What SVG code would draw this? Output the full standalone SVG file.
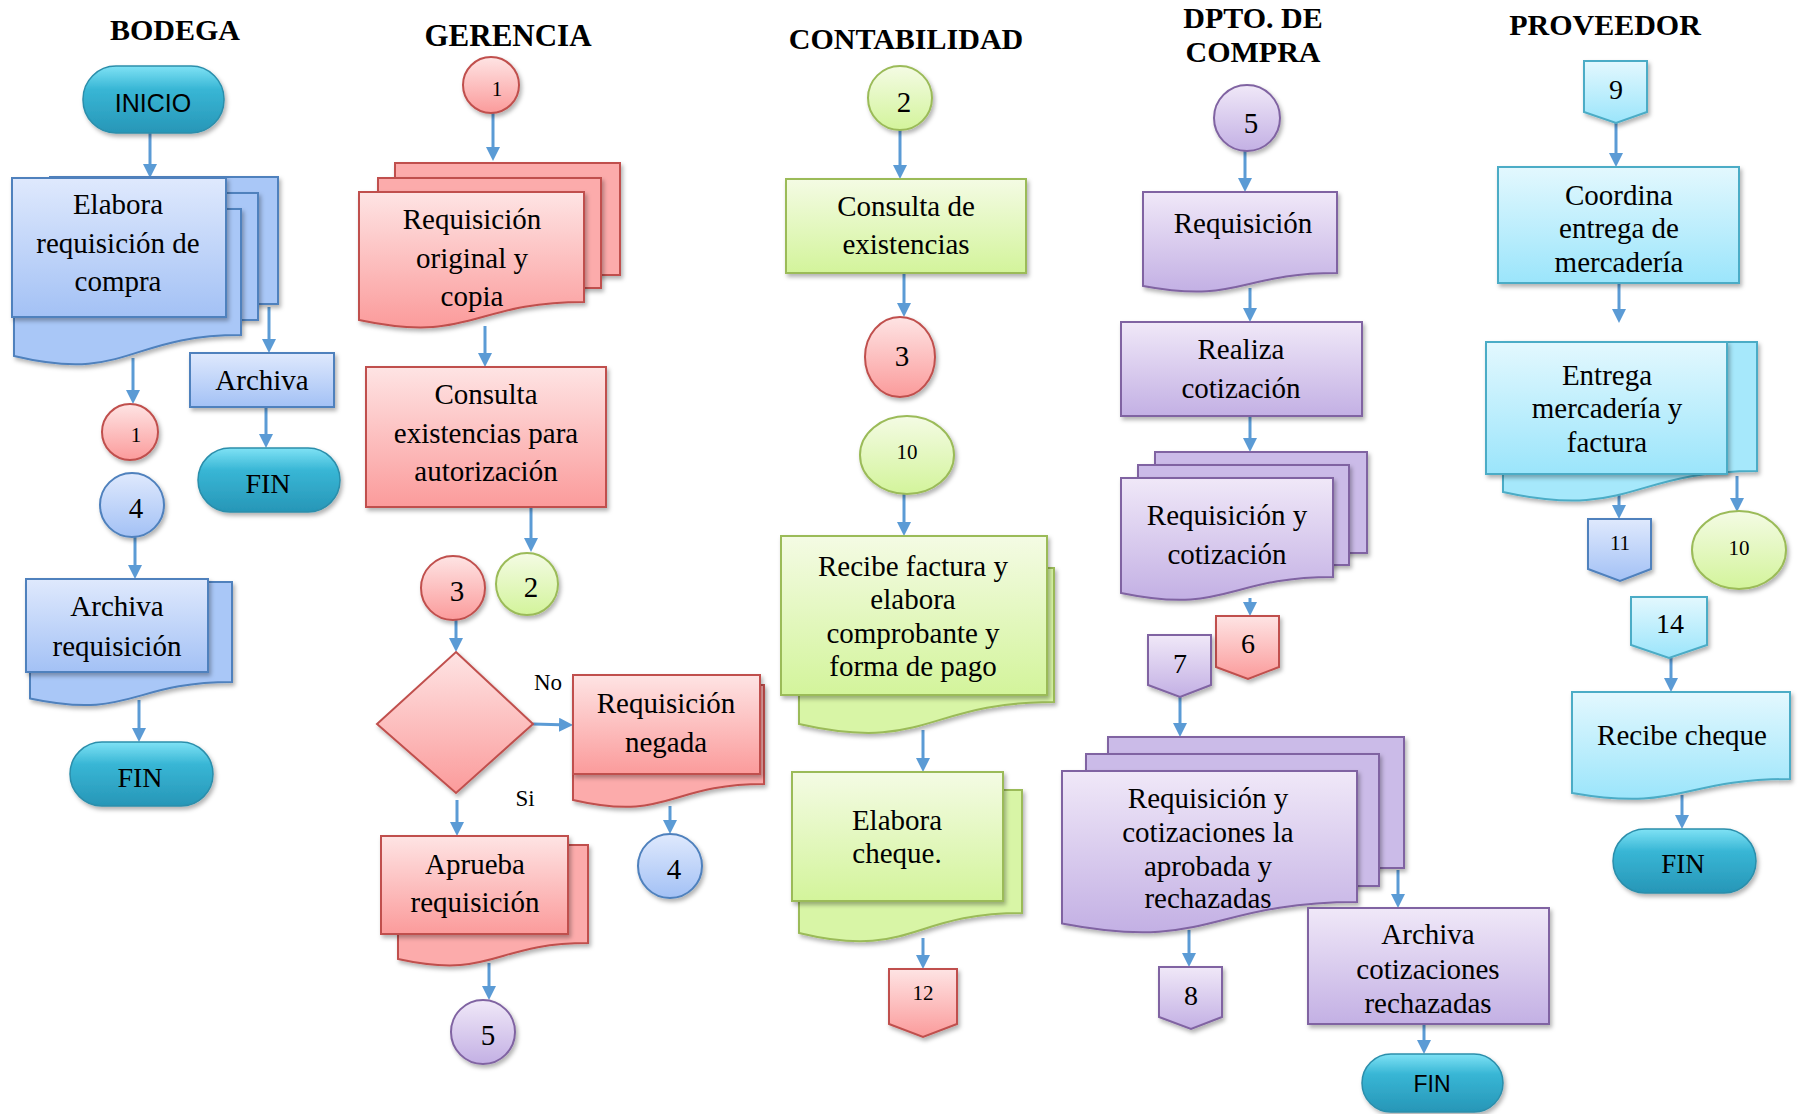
<svg xmlns="http://www.w3.org/2000/svg" width="1799" height="1114" viewBox="0 0 1799 1114">
<defs>
  <linearGradient id="gBlue" x1="0" y1="0" x2="0" y2="1"><stop offset="0" stop-color="#dfe9fd"/><stop offset="1" stop-color="#a3c1f5"/></linearGradient>
  <linearGradient id="gRed" x1="0" y1="0" x2="0" y2="1"><stop offset="0" stop-color="#fee4e4"/><stop offset="1" stop-color="#fb9b9b"/></linearGradient>
  <linearGradient id="gGreen" x1="0" y1="0" x2="0" y2="1"><stop offset="0" stop-color="#f4fbe4"/><stop offset="1" stop-color="#d3f49b"/></linearGradient>
  <linearGradient id="gPurple" x1="0" y1="0" x2="0" y2="1"><stop offset="0" stop-color="#f0e8f8"/><stop offset="1" stop-color="#c3b0e4"/></linearGradient>
  <linearGradient id="gCyan" x1="0" y1="0" x2="0" y2="1"><stop offset="0" stop-color="#e3f8fe"/><stop offset="1" stop-color="#9be5fb"/></linearGradient>
  <linearGradient id="gTerm" x1="0" y1="0" x2="0" y2="1"><stop offset="0" stop-color="#7fe2f5"/><stop offset="0.35" stop-color="#38b6d5"/><stop offset="1" stop-color="#2796b7"/></linearGradient>
  <filter id="sh" x="-10%" y="-10%" width="130%" height="140%"><feDropShadow dx="2" dy="3" stdDeviation="2" flood-color="#000" flood-opacity="0.3"/></filter>
  <marker id="ah" markerUnits="userSpaceOnUse" markerWidth="14" markerHeight="14" viewBox="0 0 14 14" refX="10" refY="7" orient="auto"><path d="M0,0 L14,7 L0,14 z" fill="#5b9bd5"/></marker>
</defs>
<style>
  .sh{filter:url(#sh)}
  .b{fill:url(#gBlue);stroke:#4f81bd;stroke-width:2}
  .bb{fill:#a9c7f7;stroke:#4f81bd;stroke-width:2}
  .r{fill:url(#gRed);stroke:#c0504d;stroke-width:2}
  .rb{fill:#fcabab;stroke:#c0504d;stroke-width:2}
  .g{fill:url(#gGreen);stroke:#9bbb59;stroke-width:2}
  .gb{fill:#d8f5a6;stroke:#9bbb59;stroke-width:2}
  .p{fill:url(#gPurple);stroke:#8064a2;stroke-width:2}
  .pb{fill:#cbbbe8;stroke:#8064a2;stroke-width:2}
  .c{fill:url(#gCyan);stroke:#4bacc6;stroke-width:2}
  .cb{fill:#a6e8fb;stroke:#4bacc6;stroke-width:2}
  .term{fill:url(#gTerm);stroke:#2b8eab;stroke-width:1.5}
  .t{font-family:"Liberation Serif","Times New Roman",serif;font-size:29px;text-anchor:middle;fill:#000}
  .ts{font-size:21px}
  .tl{font-size:23px}
  .tn{font-size:28px}
  .h{font-weight:bold;font-size:30px}
  .sans{font-family:"Liberation Sans",Arial,sans-serif}
  .ar{stroke:#5b9bd5;stroke-width:3;fill:none;marker-end:url(#ah)}
</style>
<rect width="1799" height="1114" fill="#ffffff"/>

<g id="connectors">
  <path class="ar" d="M150,133 V174"/>
  <path class="ar" d="M269,307 V349"/>
  <path class="ar" d="M133,358 V400"/>
  <path class="ar" d="M266,407 V444"/>
  <path class="ar" d="M135,537 V575"/>
  <path class="ar" d="M139,700 V738"/>
  <path class="ar" d="M493,113 V157"/>
  <path class="ar" d="M485,326 V363"/>
  <path class="ar" d="M531,507 V548"/>
  <path class="ar" d="M456,620 V648"/>
  <path class="ar" d="M533,724 L569,725"/>
  <path class="ar" d="M670,806 V830"/>
  <path class="ar" d="M457,800 V832"/>
  <path class="ar" d="M489,963 V996"/>
  <path class="ar" d="M900,130 V175"/>
  <path class="ar" d="M904,273 V313"/>
  <path class="ar" d="M904,494 V532"/>
  <path class="ar" d="M923,730 V768"/>
  <path class="ar" d="M923,938 V965"/>
  <path class="ar" d="M1245,151 V188"/>
  <path class="ar" d="M1250,288 V318"/>
  <path class="ar" d="M1250,416 V448"/>
  <path class="ar" d="M1250,598 V612"/>
  <path class="ar" d="M1180,697 V733"/>
  <path class="ar" d="M1189,930 V963"/>
  <path class="ar" d="M1398,870 V904"/>
  <path class="ar" d="M1424,1024 V1050"/>
  <path class="ar" d="M1616,123 V163"/>
  <path class="ar" d="M1619,283 V319"/>
  <path class="ar" d="M1619,474 V515"/>
  <path class="ar" d="M1737,476 V508"/>
  <path class="ar" d="M1671,658 V688"/>
  <path class="ar" d="M1682,795 V825"/>
</g>

<g id="titles">
  <text class="t h" x="175" y="40">BODEGA</text>
  <text class="t h" style="font-size:31px" x="508" y="46">GERENCIA</text>
  <text class="t h" x="906" y="49">CONTABILIDAD</text>
  <text class="t h" x="1253" y="28">DPTO. DE</text>
  <text class="t h" x="1253" y="62">COMPRA</text>
  <text class="t h" x="1605" y="35">PROVEEDOR</text>
</g>

<!-- BODEGA -->
<g id="inicio">
  <rect class="term sh" x="83" y="66" width="141" height="67" rx="33"/>
  <text class="t sans" style="font-size:25px" x="153" y="112">INICIO</text>
</g>
<g id="elabora-requisicion">
  <rect class="bb sh" x="50" y="177" width="228" height="127"/>
  <rect class="bb sh" x="30" y="193" width="228" height="127"/>
  <path class="bb sh" d="M14,209 H241 V335 C127.5,335 127.5,383 14,356 Z"/>
  <rect class="b sh" x="12" y="178" width="214" height="139"/>
  <text class="t" x="118" y="214">Elabora</text>
  <text class="t" x="118" y="253">requisición de</text>
  <text class="t" x="118" y="291">compra</text>
</g>
<g id="archiva-b">
  <rect class="b sh" x="190" y="353" width="144" height="54"/>
  <text class="t" x="262" y="390">Archiva</text>
</g>
<g id="fin-b1">
  <rect class="term sh" x="198" y="448" width="142" height="64" rx="32"/>
  <text class="t tn" x="268" y="493">FIN</text>
</g>
<g id="con-b1">
  <circle class="r sh" cx="130" cy="432" r="28"/>
  <text class="t ts" x="136" y="442">1</text>
</g>
<g id="con-b4">
  <circle class="b sh" cx="132" cy="505" r="32"/>
  <text class="t" x="136" y="518">4</text>
</g>
<g id="archiva-requisicion">
  <path class="bb sh" d="M30,582 H232 V682 C131,682 131,720 30,698.5 Z"/>
  <rect class="b sh" x="26" y="579" width="182" height="93"/>
  <text class="t" x="117" y="616">Archiva</text>
  <text class="t" x="117" y="656">requisición</text>
</g>
<g id="fin-b2">
  <rect class="term sh" x="70" y="742" width="143" height="64" rx="32"/>
  <text class="t tn" x="140" y="787">FIN</text>
</g>

<!-- GERENCIA -->
<g id="con-g1">
  <circle class="r sh" cx="491" cy="85" r="28"/>
  <text class="t ts" x="497" y="96">1</text>
</g>
<g id="req-original">
  <rect class="rb sh" x="395" y="163" width="225" height="112"/>
  <rect class="rb sh" x="378" y="178" width="223" height="110"/>
  <path class="r sh" d="M359,192 H584 V302 C471.5,302 471.5,344 359,320 Z"/>
  <text class="t" x="472" y="229">Requisición</text>
  <text class="t" x="472" y="268">original y</text>
  <text class="t" x="472" y="306">copia</text>
</g>
<g id="consulta-autorizacion">
  <rect class="r sh" x="366" y="367" width="240" height="140"/>
  <text class="t" x="486" y="404">Consulta</text>
  <text class="t" x="486" y="443">existencias para</text>
  <text class="t" x="486" y="481">autorización</text>
</g>
<g id="con-g3">
  <circle class="r sh" cx="453" cy="588" r="32"/>
  <text class="t" x="457" y="601">3</text>
</g>
<g id="con-g2">
  <circle class="g sh" cx="527" cy="584" r="31"/>
  <text class="t" x="531" y="597">2</text>
</g>
<g id="decision">
  <path class="r sh" d="M456,652 L533,724 L456,793 L377,724 Z"/>
</g>
<g id="labels">
  <text class="t tl" x="548" y="690">No</text>
  <text class="t tl" x="525" y="806">Si</text>
</g>
<g id="req-negada">
  <path class="rb sh" d="M573,685 H764 V784 C668.5,784 668.5,822 573,800 Z"/>
  <rect class="r sh" x="573" y="675" width="187" height="99"/>
  <text class="t" x="666" y="713">Requisición</text>
  <text class="t" x="666" y="752">negada</text>
</g>
<g id="con-g4">
  <circle class="b sh" cx="670" cy="866" r="32"/>
  <text class="t" x="674" y="879">4</text>
</g>
<g id="aprueba">
  <path class="rb sh" d="M398,845 H588 V943 C493,943 493,980 398,959 Z"/>
  <rect class="r sh" x="381" y="836" width="187" height="98"/>
  <text class="t" x="475" y="874">Aprueba</text>
  <text class="t" x="475" y="912">requisición</text>
</g>
<g id="con-g5">
  <circle class="p sh" cx="483" cy="1032" r="32"/>
  <text class="t" x="488" y="1045">5</text>
</g>

<!-- CONTABILIDAD -->
<g id="con-c2">
  <circle class="g sh" cx="900" cy="98" r="32"/>
  <text class="t" x="904" y="112">2</text>
</g>
<g id="consulta-existencias">
  <rect class="g sh" x="786" y="179" width="240" height="94"/>
  <text class="t" x="906" y="216">Consulta de</text>
  <text class="t" x="906" y="254">existencias</text>
</g>
<g id="con-c3">
  <ellipse class="r sh" cx="900" cy="357" rx="35" ry="40"/>
  <text class="t" x="902" y="366">3</text>
</g>
<g id="con-c10">
  <ellipse class="g sh" cx="907" cy="455" rx="47" ry="39"/>
  <text class="t ts" x="907" y="459">10</text>
</g>
<g id="recibe-factura">
  <path class="gb sh" d="M799,568 H1054 V702 C926.5,702 926.5,753 799,724 Z"/>
  <rect class="g sh" x="781" y="536" width="266" height="159"/>
  <text class="t" x="913" y="576">Recibe factura y</text>
  <text class="t" x="913" y="609">elabora</text>
  <text class="t" x="913" y="643">comprobante y</text>
  <text class="t" x="913" y="676">forma de pago</text>
</g>
<g id="elabora-cheque">
  <path class="gb sh" d="M799,790 H1022 V913 C910.5,913 910.5,960 799,933 Z"/>
  <rect class="g sh" x="792" y="772" width="211" height="129"/>
  <text class="t" x="897" y="830">Elabora</text>
  <text class="t" x="897" y="863">cheque.</text>
</g>
<g id="off-12">
  <path class="r sh" d="M889,969 H957 V1024 L923,1037 L889,1024 Z"/>
  <text class="t ts" x="923" y="1000">12</text>
</g>

<!-- DPTO. DE COMPRA -->
<g id="con-d5">
  <circle class="p sh" cx="1247" cy="118" r="33"/>
  <text class="t" x="1251" y="133">5</text>
</g>
<g id="requisicion-d">
  <path class="p sh" d="M1143,192 H1337 V273 C1240,273 1240,304 1143,286 Z"/>
  <text class="t" x="1243" y="233">Requisición</text>
</g>
<g id="realiza-cotizacion">
  <rect class="p sh" x="1121" y="322" width="241" height="94"/>
  <text class="t" x="1241" y="359">Realiza</text>
  <text class="t" x="1241" y="398">cotización</text>
</g>
<g id="req-cotizacion">
  <rect class="pb sh" x="1155" y="452" width="212" height="101"/>
  <rect class="pb sh" x="1138" y="465" width="211" height="100"/>
  <path class="p sh" d="M1121,478 H1333 V577 C1227,577 1227,615 1121,593 Z"/>
  <text class="t" x="1227" y="525">Requisición y</text>
  <text class="t" x="1227" y="564">cotización</text>
</g>
<g id="off-6">
  <path class="r sh" d="M1216,616 H1279 V667 L1248,679 L1216,667 Z"/>
  <text class="t tn" x="1248" y="653">6</text>
</g>
<g id="off-7">
  <path class="p sh" d="M1148,635 H1211 V685 L1180,697 L1148,685 Z"/>
  <text class="t tn" x="1180" y="673">7</text>
</g>
<g id="req-cotizaciones">
  <rect class="pb sh" x="1108" y="737" width="296" height="131"/>
  <rect class="pb sh" x="1086" y="754" width="293" height="132"/>
  <path class="p sh" d="M1062,771 H1357 V902 C1209.5,902 1209.5,952 1062,923.5 Z"/>
  <text class="t" x="1208" y="808">Requisición y</text>
  <text class="t" x="1208" y="842">cotizaciones la</text>
  <text class="t" x="1208" y="876">aprobada y</text>
  <text class="t" x="1208" y="908">rechazadas</text>
</g>
<g id="off-8">
  <path class="p sh" d="M1159,967 H1222 V1017 L1191,1029 L1159,1017 Z"/>
  <text class="t tn" x="1191" y="1005">8</text>
</g>
<g id="archiva-cotizaciones">
  <rect class="p sh" x="1308" y="908" width="241" height="116"/>
  <text class="t" x="1428" y="944">Archiva</text>
  <text class="t" x="1428" y="979">cotizaciones</text>
  <text class="t" x="1428" y="1013">rechazadas</text>
</g>
<g id="fin-d">
  <rect class="term sh" x="1362" y="1054" width="141" height="58" rx="29"/>
  <text class="t sans" style="font-size:23px" x="1432" y="1092">FIN</text>
</g>

<!-- PROVEEDOR -->
<g id="off-9">
  <path class="c sh" d="M1584,61 H1647 V112 L1616,123 L1584,112 Z"/>
  <text class="t tn" x="1616" y="99">9</text>
</g>
<g id="coordina">
  <rect class="c sh" x="1498" y="167" width="241" height="116"/>
  <text class="t" x="1619" y="205">Coordina</text>
  <text class="t" x="1619" y="238">entrega de</text>
  <text class="t" x="1619" y="272">mercadería</text>
</g>
<g id="entrega">
  <path class="cb sh" d="M1503,342 H1757 V471 C1630,471 1630,520 1503,492 Z"/>
  <rect class="c sh" x="1486" y="342" width="241" height="132"/>
  <text class="t" x="1607" y="385">Entrega</text>
  <text class="t" x="1607" y="418">mercadería y</text>
  <text class="t" x="1607" y="452">factura</text>
</g>
<g id="off-11">
  <path class="b sh" d="M1588,519 H1651 V569 L1620,581 L1588,569 Z"/>
  <text class="t ts" x="1620" y="550">11</text>
</g>
<g id="con-p10">
  <ellipse class="g sh" cx="1739" cy="550" rx="47" ry="39"/>
  <text class="t ts" x="1739" y="555">10</text>
</g>
<g id="off-14">
  <path class="c sh" d="M1631,597 H1707 V645 L1669,658 L1631,645 Z"/>
  <text class="t tn" x="1670" y="633">14</text>
</g>
<g id="recibe-cheque">
  <path class="c sh" d="M1572,692 H1790 V779 C1681,779 1681,812 1572,793 Z"/>
  <text class="t" x="1682" y="745">Recibe cheque</text>
</g>
<g id="fin-p">
  <rect class="term sh" x="1613" y="829" width="143" height="64" rx="32"/>
  <text class="t" style="font-size:27px" x="1683" y="873">FIN</text>
</g>
</svg>
